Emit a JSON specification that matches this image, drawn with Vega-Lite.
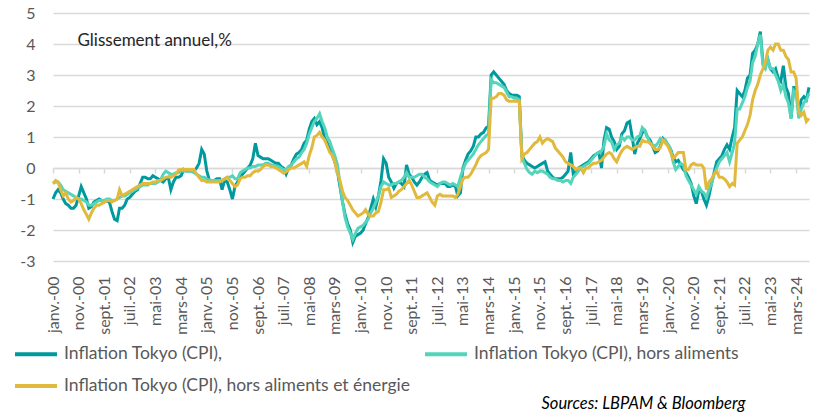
{
"$schema": "https://vega.github.io/schema/vega-lite/v6.json",
"width": 756, "height": 248,
"autosize": {"type": "none"},
"padding": {"left": 53, "top": 13, "right": 20, "bottom": 155},
"background": "white",
"config": {"font": "Lato", "view": {"stroke": null}},
"data": {"values": [
{"d":"2000-01","a":-1,"b":-0.5,"c":-0.5},{"d":"2000-02","a":-0.8,"b":-0.45,"c":-0.4},{"d":"2000-03","a":-0.7,"b":-0.45,"c":-0.45},{"d":"2000-04","a":-0.8,"b":-0.55,"c":-0.7},{"d":"2000-05","a":-1,"b":-0.7,"c":-0.9},{"d":"2000-06","a":-1.15,"b":-0.75,"c":-0.8},{"d":"2000-07","a":-1.2,"b":-0.8,"c":-1},{"d":"2000-08","a":-1.3,"b":-0.85,"c":-1.1},{"d":"2000-09","a":-1.3,"b":-0.9,"c":-1.05},{"d":"2000-10","a":-1.2,"b":-0.95,"c":-0.95},{"d":"2000-11","a":-0.9,"b":-1,"c":-1},{"d":"2000-12","a":-0.6,"b":-1,"c":-1.15},
{"d":"2001-01","a":-0.8,"b":-1.05,"c":-1.35},{"d":"2001-02","a":-1,"b":-1.1,"c":-1.5},{"d":"2001-03","a":-1.3,"b":-1.2,"c":-1.65},{"d":"2001-04","a":-1.25,"b":-1.2,"c":-1.45},{"d":"2001-05","a":-1.1,"b":-1.15,"c":-1.3},{"d":"2001-06","a":-1.05,"b":-1.1,"c":-1.2},{"d":"2001-07","a":-1,"b":-1.05,"c":-1.2},{"d":"2001-08","a":-1.05,"b":-1.05,"c":-1.15},{"d":"2001-09","a":-1.1,"b":-1.05,"c":-1.1},{"d":"2001-10","a":-1.05,"b":-1,"c":-1.05},{"d":"2001-11","a":-1.1,"b":-1,"c":-1.05},{"d":"2001-12","a":-1.4,"b":-1.05,"c":-1.1},
{"d":"2002-01","a":-1.65,"b":-1.05,"c":-1.05},{"d":"2002-02","a":-1.7,"b":-1,"c":-1},{"d":"2002-03","a":-1.3,"b":-0.95,"c":-0.7},{"d":"2002-04","a":-1.3,"b":-0.9,"c":-0.9},{"d":"2002-05","a":-1.2,"b":-0.9,"c":-0.85},{"d":"2002-06","a":-1,"b":-0.85,"c":-0.8},{"d":"2002-07","a":-0.95,"b":-0.8,"c":-0.75},{"d":"2002-08","a":-0.85,"b":-0.75,"c":-0.7},{"d":"2002-09","a":-0.75,"b":-0.7,"c":-0.65},{"d":"2002-10","a":-0.7,"b":-0.65,"c":-0.6},{"d":"2002-11","a":-0.5,"b":-0.6,"c":-0.55},{"d":"2002-12","a":-0.3,"b":-0.55,"c":-0.5},
{"d":"2003-01","a":-0.3,"b":-0.55,"c":-0.5},{"d":"2003-02","a":-0.35,"b":-0.55,"c":-0.5},{"d":"2003-03","a":-0.35,"b":-0.5,"c":-0.5},{"d":"2003-04","a":-0.25,"b":-0.5,"c":-0.45},{"d":"2003-05","a":-0.3,"b":-0.5,"c":-0.45},{"d":"2003-06","a":-0.35,"b":-0.45,"c":-0.4},{"d":"2003-07","a":-0.4,"b":-0.4,"c":-0.4},{"d":"2003-08","a":-0.45,"b":-0.2,"c":-0.35},{"d":"2003-09","a":-0.35,"b":-0.1,"c":-0.3},{"d":"2003-10","a":-0.3,"b":-0.15,"c":-0.28},{"d":"2003-11","a":-0.7,"b":-0.2,"c":-0.3},{"d":"2003-12","a":-0.45,"b":-0.2,"c":-0.25},
{"d":"2004-01","a":-0.3,"b":-0.15,"c":-0.2},{"d":"2004-02","a":-0.3,"b":-0.15,"c":-0.06},{"d":"2004-03","a":-0.25,"b":-0.1,"c":-0.05},{"d":"2004-04","a":-0.05,"b":-0.1,"c":-0.05},{"d":"2004-05","a":-0.1,"b":-0.1,"c":-0.05},{"d":"2004-06","a":-0.1,"b":-0.1,"c":-0.05},{"d":"2004-07","a":-0.1,"b":-0.1,"c":-0.05},{"d":"2004-08","a":-0.1,"b":-0.15,"c":-0.05},{"d":"2004-09","a":0,"b":-0.2,"c":-0.2},{"d":"2004-10","a":0.15,"b":-0.25,"c":-0.3},{"d":"2004-11","a":0.6,"b":-0.3,"c":-0.4},{"d":"2004-12","a":0.45,"b":-0.3,"c":-0.4},
{"d":"2005-01","a":-0.1,"b":-0.35,"c":-0.45},{"d":"2005-02","a":-0.4,"b":-0.4,"c":-0.45},{"d":"2005-03","a":-0.4,"b":-0.4,"c":-0.45},{"d":"2005-04","a":-0.4,"b":-0.4,"c":-0.45},{"d":"2005-05","a":-0.35,"b":-0.4,"c":-0.45},{"d":"2005-06","a":-0.35,"b":-0.4,"c":-0.45},{"d":"2005-07","a":-0.7,"b":-0.4,"c":-0.4},{"d":"2005-08","a":-0.4,"b":-0.35,"c":-0.35},{"d":"2005-09","a":-0.45,"b":-0.3,"c":-0.3},{"d":"2005-10","a":-0.7,"b":-0.3,"c":-0.4},{"d":"2005-11","a":-1,"b":-0.25,"c":-0.5},{"d":"2005-12","a":-0.6,"b":-0.35,"c":-0.6},
{"d":"2006-01","a":-0.45,"b":-0.35,"c":-0.55},{"d":"2006-02","a":-0.3,"b":-0.15,"c":-0.35},{"d":"2006-03","a":-0.2,"b":-0.1,"c":-0.3},{"d":"2006-04","a":-0.1,"b":-0.05,"c":-0.3},{"d":"2006-05","a":0,"b":0,"c":-0.25},{"d":"2006-06","a":0.1,"b":0,"c":-0.25},{"d":"2006-07","a":0.3,"b":0.05,"c":-0.15},{"d":"2006-08","a":0.8,"b":0.05,"c":-0.1},{"d":"2006-09","a":0.4,"b":0.1,"c":-0.1},{"d":"2006-10","a":0.35,"b":0.1,"c":-0.05},{"d":"2006-11","a":0.3,"b":0.1,"c":0.05},{"d":"2006-12","a":0.3,"b":0.15,"c":0.1},
{"d":"2007-01","a":0.3,"b":0.15,"c":0.1},{"d":"2007-02","a":0.25,"b":0.1,"c":0.05},{"d":"2007-03","a":0.2,"b":0.1,"c":0.05},{"d":"2007-04","a":0.15,"b":0.05,"c":0},{"d":"2007-05","a":0.15,"b":0.05,"c":-0.05},{"d":"2007-06","a":0.05,"b":0,"c":-0.1},{"d":"2007-07","a":0,"b":-0.05,"c":-0.17},{"d":"2007-08","a":-0.2,"b":-0.05,"c":-0.12},{"d":"2007-09","a":0,"b":0.05,"c":-0.05},{"d":"2007-10","a":0.1,"b":0.1,"c":0},{"d":"2007-11","a":0.3,"b":0.2,"c":0},{"d":"2007-12","a":0.45,"b":0.3,"c":0.05},
{"d":"2008-01","a":0.5,"b":0.35,"c":0.1},{"d":"2008-02","a":0.6,"b":0.5,"c":0.15},{"d":"2008-03","a":0.8,"b":0.6,"c":0.2},{"d":"2008-04","a":0.9,"b":0.8,"c":0.05},{"d":"2008-05","a":1.25,"b":1.1,"c":0.4},{"d":"2008-06","a":1.5,"b":1.3,"c":0.65},{"d":"2008-07","a":1.6,"b":1.5,"c":1},{"d":"2008-08","a":1.4,"b":1.6,"c":1.05},{"d":"2008-09","a":1.5,"b":1.75,"c":1.15},{"d":"2008-10","a":1.3,"b":1.5,"c":1},{"d":"2008-11","a":0.95,"b":1.3,"c":0.9},{"d":"2008-12","a":0.8,"b":1,"c":0.7},
{"d":"2009-01","a":0.6,"b":0.85,"c":0.5},{"d":"2009-02","a":0.4,"b":0.6,"c":0.4},{"d":"2009-03","a":0.2,"b":0.4,"c":0.2},{"d":"2009-04","a":-0.1,"b":0.1,"c":-0.15},{"d":"2009-05","a":-0.6,"b":-0.5,"c":-0.4},{"d":"2009-06","a":-1.1,"b":-1.1,"c":-0.75},{"d":"2009-07","a":-1.5,"b":-1.6,"c":-0.95},{"d":"2009-08","a":-1.8,"b":-1.9,"c":-1.05},{"d":"2009-09","a":-2,"b":-2.1,"c":-1.2},{"d":"2009-10","a":-2.4,"b":-2.3,"c":-1.35},{"d":"2009-11","a":-2.2,"b":-2.1,"c":-1.45},{"d":"2009-12","a":-2.15,"b":-1.95,"c":-1.55},
{"d":"2010-01","a":-2.1,"b":-1.9,"c":-1.5},{"d":"2010-02","a":-2,"b":-1.85,"c":-1.45},{"d":"2010-03","a":-1.8,"b":-1.75,"c":-1.35},{"d":"2010-04","a":-1.6,"b":-1.65,"c":-1.5},{"d":"2010-05","a":-1.3,"b":-1.45,"c":-1.55},{"d":"2010-06","a":-1,"b":-1.3,"c":-1.55},{"d":"2010-07","a":-1.25,"b":-1.1,"c":-1.45},{"d":"2010-08","a":-0.9,"b":-0.9,"c":-1.4},{"d":"2010-09","a":-0.4,"b":-0.6,"c":-1.1},{"d":"2010-10","a":0.3,"b":-0.45,"c":-0.7},{"d":"2010-11","a":0.15,"b":-0.5,"c":-0.7},{"d":"2010-12","a":-0.3,"b":-0.55,"c":-0.65},
{"d":"2011-01","a":-0.45,"b":-0.55,"c":-0.95},{"d":"2011-02","a":-0.65,"b":-0.5,"c":-0.9},{"d":"2011-03","a":-0.5,"b":-0.5,"c":-0.85},{"d":"2011-04","a":-0.45,"b":-0.45,"c":-0.75},{"d":"2011-05","a":-0.5,"b":-0.4,"c":-0.7},{"d":"2011-06","a":-0.6,"b":-0.3,"c":-0.6},{"d":"2011-07","a":0.1,"b":-0.15,"c":-0.5},{"d":"2011-08","a":-0.2,"b":-0.3,"c":-0.4},{"d":"2011-09","a":-0.3,"b":-0.3,"c":-0.55},{"d":"2011-10","a":-0.45,"b":-0.3,"c":-0.75},{"d":"2011-11","a":-0.55,"b":-0.25,"c":-0.95},{"d":"2011-12","a":-0.45,"b":-0.2,"c":-0.95},
{"d":"2012-01","a":-0.3,"b":-0.2,"c":-0.9},{"d":"2012-02","a":-0.2,"b":-0.3,"c":-0.85},{"d":"2012-03","a":-0.15,"b":-0.35,"c":-0.8},{"d":"2012-04","a":-0.4,"b":-0.45,"c":-0.95},{"d":"2012-05","a":-0.45,"b":-0.5,"c":-1.1},{"d":"2012-06","a":-0.5,"b":-0.55,"c":-1.2},{"d":"2012-07","a":-0.55,"b":-0.6,"c":-0.9},{"d":"2012-08","a":-0.5,"b":-0.5,"c":-0.85},{"d":"2012-09","a":-0.5,"b":-0.45,"c":-0.9},{"d":"2012-10","a":-0.5,"b":-0.45,"c":-0.9},{"d":"2012-11","a":-0.6,"b":-0.5,"c":-0.9},{"d":"2012-12","a":-0.6,"b":-0.55,"c":-0.9},
{"d":"2013-01","a":-0.55,"b":-0.5,"c":-0.9},{"d":"2013-02","a":-0.6,"b":-0.55,"c":-0.95},{"d":"2013-03","a":-0.9,"b":-0.6,"c":-0.85},{"d":"2013-04","a":-0.8,"b":-0.3,"c":-0.6},{"d":"2013-05","a":0,"b":-0.05,"c":-0.35},{"d":"2013-06","a":0.25,"b":0.15,"c":-0.3},{"d":"2013-07","a":0.45,"b":0.25,"c":-0.3},{"d":"2013-08","a":0.55,"b":0.35,"c":-0.2},{"d":"2013-09","a":0.7,"b":0.45,"c":-0.05},{"d":"2013-10","a":1,"b":0.6,"c":0.1},{"d":"2013-11","a":1,"b":0.75,"c":0.3},{"d":"2013-12","a":1.1,"b":0.85,"c":0.4},
{"d":"2014-01","a":1.15,"b":0.95,"c":0.45},{"d":"2014-02","a":1.3,"b":1.05,"c":0.5},{"d":"2014-03","a":1.35,"b":1.1,"c":0.6},{"d":"2014-04","a":3,"b":2.85,"c":2.25},{"d":"2014-05","a":3.1,"b":2.75,"c":2.25},{"d":"2014-06","a":3,"b":2.75,"c":2.3},{"d":"2014-07","a":2.9,"b":2.7,"c":2.4},{"d":"2014-08","a":2.8,"b":2.65,"c":2.4},{"d":"2014-09","a":2.7,"b":2.6,"c":2.35},{"d":"2014-10","a":2.5,"b":2.45,"c":2.2},{"d":"2014-11","a":2.4,"b":2.3,"c":2.15},{"d":"2014-12","a":2.35,"b":2.3,"c":2.15},
{"d":"2015-01","a":2.35,"b":2.25,"c":2.15},{"d":"2015-02","a":2.35,"b":2.25,"c":2.15},{"d":"2015-03","a":2.3,"b":2.2,"c":2.15},{"d":"2015-04","a":0.4,"b":0.35,"c":0.3},{"d":"2015-05","a":0.25,"b":0.15,"c":0.45},{"d":"2015-06","a":0.15,"b":-0.05,"c":0.5},{"d":"2015-07","a":0.1,"b":-0.15,"c":0.6},{"d":"2015-08","a":0.05,"b":-0.2,"c":0.7},{"d":"2015-09","a":0,"b":-0.1,"c":0.8},{"d":"2015-10","a":0.05,"b":-0.15,"c":0.85},{"d":"2015-11","a":0.1,"b":-0.1,"c":1},{"d":"2015-12","a":0.15,"b":-0.1,"c":0.8},
{"d":"2016-01","a":0.2,"b":-0.15,"c":0.9},{"d":"2016-02","a":-0.1,"b":-0.2,"c":0.95},{"d":"2016-03","a":-0.2,"b":-0.3,"c":0.9},{"d":"2016-04","a":-0.3,"b":-0.35,"c":0.85},{"d":"2016-05","a":-0.35,"b":-0.35,"c":0.65},{"d":"2016-06","a":-0.35,"b":-0.4,"c":0.55},{"d":"2016-07","a":-0.35,"b":-0.4,"c":0.45},{"d":"2016-08","a":-0.3,"b":-0.45,"c":0.35},{"d":"2016-09","a":-0.2,"b":-0.4,"c":0.2},{"d":"2016-10","a":-0.1,"b":-0.4,"c":0.15},{"d":"2016-11","a":0.5,"b":-0.5,"c":0.1},{"d":"2016-12","a":-0.2,"b":-0.3,"c":0.05},
{"d":"2017-01","a":-0.1,"b":-0.2,"c":-0.05},{"d":"2017-02","a":0,"b":-0.1,"c":0},{"d":"2017-03","a":0.05,"b":0,"c":0},{"d":"2017-04","a":0.1,"b":0.05,"c":-0.15},{"d":"2017-05","a":0.15,"b":0.1,"c":0},{"d":"2017-06","a":0.2,"b":0.15,"c":0},{"d":"2017-07","a":0.3,"b":0.25,"c":0.1},{"d":"2017-08","a":0.4,"b":0.35,"c":0.15},{"d":"2017-09","a":0.45,"b":0.45,"c":0.15},{"d":"2017-10","a":0.5,"b":0.5,"c":0.2},{"d":"2017-11","a":0,"b":0.55,"c":0.25},{"d":"2017-12","a":0.9,"b":0.7,"c":0.35},
{"d":"2018-01","a":1.3,"b":1.1,"c":0.45},{"d":"2018-02","a":1.25,"b":0.9,"c":0.5},{"d":"2018-03","a":1,"b":0.85,"c":0.45},{"d":"2018-04","a":0.85,"b":0.6,"c":0.3},{"d":"2018-05","a":0.6,"b":0.75,"c":0.2},{"d":"2018-06","a":0.7,"b":0.8,"c":0.4},{"d":"2018-07","a":1.1,"b":1,"c":0.55},{"d":"2018-08","a":1.2,"b":0.9,"c":0.65},{"d":"2018-09","a":1.45,"b":1,"c":0.7},{"d":"2018-10","a":1.5,"b":1,"c":0.65},{"d":"2018-11","a":1,"b":0.9,"c":0.6},{"d":"2018-12","a":0.45,"b":0.9,"c":0.65},
{"d":"2019-01","a":0.8,"b":1,"c":0.7},{"d":"2019-02","a":0.95,"b":1.05,"c":0.7},{"d":"2019-03","a":1.15,"b":1.3,"c":0.9},{"d":"2019-04","a":1.2,"b":1.2,"c":0.85},{"d":"2019-05","a":1,"b":1,"c":0.85},{"d":"2019-06","a":0.9,"b":0.8,"c":0.8},{"d":"2019-07","a":0.7,"b":0.75,"c":0.7},{"d":"2019-08","a":0.5,"b":0.7,"c":0.6},{"d":"2019-09","a":0.55,"b":0.8,"c":0.6},{"d":"2019-10","a":0.7,"b":0.95,"c":0.65},{"d":"2019-11","a":0.95,"b":0.85,"c":0.9},{"d":"2019-12","a":0.85,"b":0.9,"c":0.8},
{"d":"2020-01","a":0.75,"b":0.75,"c":0.7},{"d":"2020-02","a":0.6,"b":0.6,"c":0.5},{"d":"2020-03","a":0.35,"b":0.2,"c":0.3},{"d":"2020-04","a":0.2,"b":-0.05,"c":0.4},{"d":"2020-05","a":0.25,"b":0.05,"c":0.5},{"d":"2020-06","a":0.1,"b":0.15,"c":0.5},{"d":"2020-07","a":-0.05,"b":0.1,"c":0.5},{"d":"2020-08","a":-0.15,"b":-0.25,"c":-0.05},{"d":"2020-09","a":-0.3,"b":-0.4,"c":-0.05},{"d":"2020-10","a":-0.5,"b":-0.55,"c":0.1},{"d":"2020-11","a":-0.9,"b":-0.7,"c":0.15},{"d":"2020-12","a":-1.15,"b":-0.85,"c":0.1},
{"d":"2021-01","a":-0.7,"b":-0.6,"c":0.1},{"d":"2021-02","a":-0.75,"b":-0.75,"c":0.1},{"d":"2021-03","a":-1,"b":-0.8,"c":0},{"d":"2021-04","a":-1.2,"b":-0.95,"c":-0.7},{"d":"2021-05","a":-0.9,"b":-0.7,"c":-0.45},{"d":"2021-06","a":-0.5,"b":-0.5,"c":-0.35},{"d":"2021-07","a":-0.15,"b":-0.2,"c":-0.2},{"d":"2021-08","a":0.2,"b":0,"c":-0.1},{"d":"2021-09","a":0.3,"b":0.2,"c":-0.3},{"d":"2021-10","a":0.4,"b":0.3,"c":-0.3},{"d":"2021-11","a":0.6,"b":0.4,"c":-0.35},{"d":"2021-12","a":0.75,"b":0.5,"c":-0.45},
{"d":"2022-01","a":0.6,"b":0.2,"c":-0.6},{"d":"2022-02","a":1,"b":0.5,"c":-0.5},{"d":"2022-03","a":1.3,"b":0.8,"c":-0.55},{"d":"2022-04","a":2.5,"b":1.9,"c":0.8},{"d":"2022-05","a":2.4,"b":1.9,"c":0.9},{"d":"2022-06","a":2.3,"b":2.1,"c":1},{"d":"2022-07","a":2.5,"b":2.3,"c":1.2},{"d":"2022-08","a":2.9,"b":2.6,"c":1.4},{"d":"2022-09","a":3,"b":2.8,"c":1.7},{"d":"2022-10","a":3.7,"b":3.4,"c":2.2},{"d":"2022-11","a":3.8,"b":3.6,"c":2.5},{"d":"2022-12","a":4,"b":4,"c":2.7},
{"d":"2023-01","a":4.4,"b":4.3,"c":3},{"d":"2023-02","a":3.4,"b":3.3,"c":3.2},{"d":"2023-03","a":3.3,"b":3.2,"c":3.4},{"d":"2023-04","a":3.5,"b":3.5,"c":3.8},{"d":"2023-05","a":3.2,"b":3.2,"c":3.9},{"d":"2023-06","a":3.1,"b":3.2,"c":3.8},{"d":"2023-07","a":3.2,"b":3,"c":4},{"d":"2023-08","a":2.9,"b":2.8,"c":4},{"d":"2023-09","a":2.8,"b":2.5,"c":3.8},{"d":"2023-10","a":3.3,"b":2.7,"c":3.8},{"d":"2023-11","a":2.6,"b":2.3,"c":3.6},{"d":"2023-12","a":2.4,"b":2.1,"c":3.5},
{"d":"2024-01","a":1.6,"b":1.6,"c":3.1},{"d":"2024-02","a":2.6,"b":2.5,"c":3.1},{"d":"2024-03","a":2.6,"b":2.4,"c":2.9},{"d":"2024-04","a":1.8,"b":1.6,"c":1.8},{"d":"2024-05","a":2.2,"b":1.9,"c":1.7},{"d":"2024-06","a":2.3,"b":2.1,"c":1.8},{"d":"2024-07","a":2.2,"b":2.2,"c":1.5},{"d":"2024-08","a":2.6,"b":2.4,"c":1.6}
]},
"transform": [{"fold": ["a", "b", "c"], "as": ["k", "v"]}],
"layer": [
{
"mark": {"type": "line", "strokeWidth": 3},
"encoding": {
"x": {"field": "d", "type": "temporal", "scale": {"type": "utc"},
"axis": {"orient": "bottom",
"values": [{"year":2000,"month":1,"utc":true},{"year":2000,"month":11,"utc":true},{"year":2001,"month":9,"utc":true},{"year":2002,"month":7,"utc":true},{"year":2003,"month":5,"utc":true},{"year":2004,"month":3,"utc":true},{"year":2005,"month":1,"utc":true},{"year":2005,"month":11,"utc":true},{"year":2006,"month":9,"utc":true},{"year":2007,"month":7,"utc":true},{"year":2008,"month":5,"utc":true},{"year":2009,"month":3,"utc":true},{"year":2010,"month":1,"utc":true},{"year":2010,"month":11,"utc":true},{"year":2011,"month":9,"utc":true},{"year":2012,"month":7,"utc":true},{"year":2013,"month":5,"utc":true},{"year":2014,"month":3,"utc":true},{"year":2015,"month":1,"utc":true},{"year":2015,"month":11,"utc":true},{"year":2016,"month":9,"utc":true},{"year":2017,"month":7,"utc":true},{"year":2018,"month":5,"utc":true},{"year":2019,"month":3,"utc":true},{"year":2020,"month":1,"utc":true},{"year":2020,"month":11,"utc":true},{"year":2021,"month":9,"utc":true},{"year":2022,"month":7,"utc":true},{"year":2023,"month":5,"utc":true},{"year":2024,"month":3,"utc":true}],
"labelExpr": "['janv.','févr.','mars','avr.','mai','juin','juil.','août','sept.','oct.','nov.','déc.'][utcmonth(datum.value)] + '-' + utcFormat(datum.value, '%y')",
"labelAngle": -90, "labelAlign": "right", "labelBaseline": "middle",
"labelFontSize": 16, "labelColor": "#595959", "labelPadding": 15,
"labelOverlap": false, "labelBound": false, "labelFlush": false,
"ticks": false, "domain": false, "grid": false,
"title": "Sources: LBPAM & Bloomberg", "titleFontStyle": "italic", "titleFontWeight": "normal",
"titleFontSize": 16.5, "titleColor": "#000000", "titleAlign": "right", "titleBaseline": "middle",
"titleAnchor": "end", "titleX": 692, "titleY": 142}},
"y": {"field": "v", "type": "quantitative", "scale": {"domain": [-3, 5], "nice": false, "zero": false},
"axis": {"values": [-3, -2, -1, 0, 1, 2, 3, 4, 5], "labelExpr": "'' + datum.value", "labelOverlap": false,
"domain": false, "ticks": false, "grid": true, "gridColor": "#D9D9D9", "gridWidth": 1.5,
"labelFontSize": 16, "labelColor": "#595959", "labelPadding": 18,
"title": "Glissement annuel,%", "titleAngle": 0, "titleAlign": "left", "titleBaseline": "middle",
"titleX": 24, "titleY": 27, "titleFontSize": 17, "titleFontWeight": "normal", "titleColor": "#262626"}},
"color": {"field": "k", "type": "nominal",
"scale": {"domain": ["a", "b", "c"], "range": ["#009A9E", "#55D4BC", "#E1B93C"]},
"legend": {"orient": "none", "legendX": -40, "legendY": 318, "direction": "horizontal", "columns": 2,
"title": null, "symbolType": "stroke", "symbolStrokeWidth": 4, "symbolSize": 1764,
"labelFontSize": 17.5, "labelColor": "#595959", "labelLimit": 600, "labelOffset": 5,
"columnPadding": 6, "rowPadding": -9, "padding": 0,
"labelExpr": "datum.label == 'a' ? 'Inflation Tokyo (CPI),' : datum.label == 'b' ? 'Inflation Tokyo (CPI), hors aliments' : 'Inflation Tokyo (CPI), hors aliments et énergie'"}}
}
},
{
"mark": {"type": "line", "strokeOpacity": 0},
"encoding": {
"x": {"field": "d", "type": "temporal", "scale": {"type": "utc"},
"axis": {"orient": "bottom", "offset": -93,
"values": [{"year":2000,"month":1,"utc":true},{"year":2000,"month":11,"utc":true},{"year":2001,"month":9,"utc":true},{"year":2002,"month":7,"utc":true},{"year":2003,"month":5,"utc":true},{"year":2004,"month":3,"utc":true},{"year":2005,"month":1,"utc":true},{"year":2005,"month":11,"utc":true},{"year":2006,"month":9,"utc":true},{"year":2007,"month":7,"utc":true},{"year":2008,"month":5,"utc":true},{"year":2009,"month":3,"utc":true},{"year":2010,"month":1,"utc":true},{"year":2010,"month":11,"utc":true},{"year":2011,"month":9,"utc":true},{"year":2012,"month":7,"utc":true},{"year":2013,"month":5,"utc":true},{"year":2014,"month":3,"utc":true},{"year":2015,"month":1,"utc":true},{"year":2015,"month":11,"utc":true},{"year":2016,"month":9,"utc":true},{"year":2017,"month":7,"utc":true},{"year":2018,"month":5,"utc":true},{"year":2019,"month":3,"utc":true},{"year":2020,"month":1,"utc":true},{"year":2020,"month":11,"utc":true},{"year":2021,"month":9,"utc":true},{"year":2022,"month":7,"utc":true},{"year":2023,"month":5,"utc":true},{"year":2024,"month":3,"utc":true}],
"labels": false, "ticks": true, "tickSize": 5, "tickColor": "#D9D9D9", "tickWidth": 1.5,
"domain": true, "domainColor": "#D9D9D9", "domainWidth": 1.5, "grid": false, "title": null}},
"y": {"field": "v", "type": "quantitative", "axis": null}
}
}
],
"resolve": {"axis": {"x": "independent", "y": "independent"}}
}
